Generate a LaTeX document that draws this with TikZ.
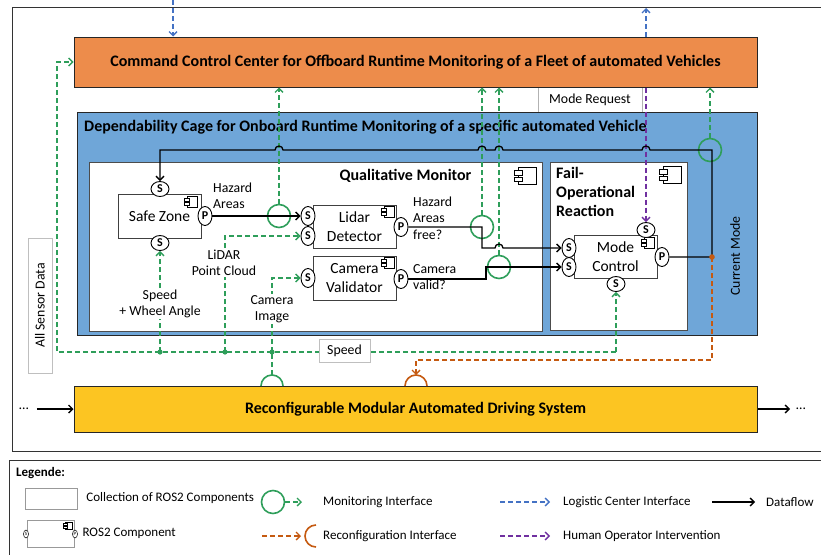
\documentclass[tikz,border=0pt]{standalone}
\usepackage{fontspec}
\setmainfont{Carlito}
\usetikzlibrary{arrows.meta,positioning,shapes.geometric}

\definecolor{cccorange}{RGB}{237,140,75}
\definecolor{cageblue}{RGB}{111,166,216}
\definecolor{adsyellow}{RGB}{252,197,34}
\definecolor{mongreen}{RGB}{46,158,90}
\definecolor{logblue}{RGB}{68,114,196}
\definecolor{humpurple}{RGB}{112,48,160}
\definecolor{recorange}{RGB}{197,90,17}

\newcommand\lbl{\fontsize{13.8}{16.5}\selectfont}
\newcommand\cmpf{\fontsize{15.5}{18.5}\selectfont}
\newcommand\ttl{\fontsize{16}{19}\selectfont\bfseries}
\newcommand\lgd{\fontsize{13}{15}\selectfont}

% little UML component symbol
\tikzset{compicon/.pic={
    \draw[fill=white,line width=0.7pt] (-6,-8) rectangle (10,8);
    \draw[fill=white,line width=0.7pt] (-10,-5) rectangle (-2,-1);
    \draw[fill=white,line width=0.7pt] (-10,1) rectangle (-2,5);
  }}

\begin{document}
\begin{tikzpicture}[
    x=1pt, y=-1pt,
    font=\lbl,
    >={Straight Barb[length=4pt,width=8pt]},
    bigbox/.style={rectangle,draw=black!85,line width=1pt,inner sep=0pt},
    comp/.style={rectangle,draw=black!75,fill=white,line width=1pt,align=center,minimum width=83pt,minimum height=44pt,inner sep=0pt,font=\cmpf},
    port/.style={ellipse,draw,fill=white,line width=0.9pt,inner sep=0pt,minimum width=14pt,minimum height=19pt,font=\fontsize{12}{12}\selectfont\bfseries},
    tport/.style={port,minimum width=18pt,minimum height=15pt},
    txtbox/.style={rectangle,draw=black!25,fill=white,inner sep=0pt},
    flow/.style={->,line width=1.3pt},
    mon/.style={mongreen,line width=1.3pt,dash pattern=on 5pt off 3pt},
    moncirc/.style={circle,draw=mongreen,line width=1.6pt,minimum size=23pt,inner sep=0pt},
    logi/.style={->,logblue,line width=1.3pt,dash pattern=on 5pt off 3pt},
    human/.style={->,humpurple,line width=1.3pt,dash pattern=on 5pt off 3pt},
    reconf/.style={recorange,line width=1.3pt,dash pattern=on 5pt off 3pt},
    lbox/.style={fill=white,align=center,inner sep=1pt},
    lgdtxt/.style={font=\lgd,inner sep=1pt}
  ]
  \useasboundingbox (0,0) rectangle (821,554);

  % frames
  \draw[black!80,line width=1pt] (12,7) rectangle (840,451);
  \draw[black!80,line width=1pt] (9,460) rectangle (840,570);

  % offboard part
  \node[txtbox,draw=black!30,minimum width=104pt,minimum height=25pt] (mreq) at (590,99.5) {Mode Request};
  \node[bigbox,fill=cccorange,minimum width=683pt,minimum height=50pt,font=\ttl] (ccc) at (415.5,62)
    {Command Control Center for Offboard Runtime Monitoring of a Fleet of automated Vehicles};

  % dependability cage
  \node[bigbox,fill=cageblue,minimum width=680pt,minimum height=223pt] (cage) at (417,223.5) {};
  \node[font=\ttl,anchor=west,inner sep=0pt] (cagettl) at (84,127)
    {Dependability Cage for Onboard Runtime Monitoring of a specific automated Vehicle};
  \node[rotate=90] (curmode) at (735,256) {Current Mode};

  \node[bigbox,draw=black!70,fill=white,minimum width=453pt,minimum height=169pt] (qm) at (315.5,246.5) {};
  \node[font=\ttl] (qmttl) at (405.5,176) {Qualitative Monitor};
  \pic[scale=1.1] at (525,176) {compicon};

  \node[bigbox,draw=black!70,fill=white,minimum width=137pt,minimum height=168pt] (fo) at (618.5,246) {};
  \node[font=\ttl,align=left,anchor=north west,inner sep=0pt] (fottl) at (556,167) {Fail-\\Operational\\Reaction};
  \pic[scale=1.1] at (670,175) {compicon};

  % components
  \node[comp] (sz) at (159.5,216) {Safe Zone};
  \pic[scale=0.65] at (191,202) {compicon};
  \node[comp,minimum height=43pt] (lidar) at (354.5,226.5) {Lidar\\Detector};
  \pic[scale=0.65] at (388,212) {compicon};
  \node[comp] (cam) at (354.5,278) {Camera\\Validator};
  \pic[scale=0.65] at (388,263) {compicon};
  \node[comp,minimum height=43pt] (mc) at (615.5,256.5) {Mode\\Control};
  \pic[scale=0.65] at (648,243) {compicon};

  % ports
  \node[tport] (szS1) at (160,189) {S};
  \node[tport] (szS2) at (160,243) {S};
  \node[port] (szP) at (205,216) {P};
  \node[port] (ldS1) at (308,216) {S};
  \node[port] (ldS2) at (308,236) {S};
  \node[port] (ldP) at (401,227) {P};
  \node[port] (cvS) at (308,278) {S};
  \node[port] (cvP) at (401,279) {P};
  \node[port] (mcS1) at (569,248) {S};
  \node[port] (mcS2) at (569,267) {S};
  \node[tport] (mcS3) at (646,230) {S};
  \node[tport] (mcS4) at (616,284) {S};
  \node[port] (mcP) at (662,257) {P};

  % driving system
  \node[bigbox,fill=adsyellow,minimum width=683pt,minimum height=46pt,font=\ttl] (ads) at (415.5,409)
    {Reconfigurable Modular Automated Driving System};
  \node[inner sep=0pt] (adsin) at (24,409) {\dots};
  \node[inner sep=0pt] (adsout) at (801,409) {\dots};
  \draw[flow] (adsin.east) ++(8,0) -- (ads.west);
  \draw[flow] (ads.east) -- ([xshift=-6pt]adsout.west);
  \coordinate (sockM) at (272,375);
  \coordinate (sockR) at (416,375);
  \draw[mongreen,line width=1.6pt] (261,386) arc[start angle=180,end angle=360,radius=11];
  \draw[recorange,line width=1.6pt] (405,386) arc[start angle=180,end angle=360,radius=11];

  \node[txtbox,rotate=90,minimum width=135pt,minimum height=24pt] (allsens) at (40,305.5) {All Sensor Data};

  % logistic center
  \coordinate (login) at (173,0);
  \coordinate (logout) at (646,8);
  \draw[logi] (login) -- (login |- ccc.north);
  \draw[logi] (logout |- ccc.north) -- (logout);

  % monitoring interfaces
  \node[moncirc] (mon1) at (279,216) {};
  \node[moncirc] (mon2) at (482,227) {};
  \node[moncirc] (mon3) at (499,267) {};
  \node[moncirc] (mon4) at (710,150) {};
  \draw[mon,->] (mon1.north) -- (mon1 |- ccc.south);
  \draw[mon,->] (mon2.north) -- (mon2 |- ccc.south);
  \draw[mon,->] (mon3.north) -- (mon3 |- ccc.south);
  \draw[mon,->] (mon4.north) -- (mon4 |- ccc.south);
  \draw[human] (mcS3 |- ccc.south) -- (mcS3.north);

  % dataflow
  \coordinate (cmode) at (712,257);
  \draw[flow] (szP.east) -- (ldS1.west);
  \node[align=left,anchor=west,inner sep=0pt] at (213,196) {Hazard\\Areas};
  \draw[flow] (ldP.east) -- (482,227) -- (482,248) -- (495,248)
    arc[start angle=180,end angle=360,radius=4] -- (mcS1.west);
  \node[align=left,anchor=west,inner sep=0pt] at (413,218) {Hazard\\Areas\\free?};
  \draw[flow] (cvP.east) -- (486,279) -- (486,267) -- (mcS2.west);
  \node[align=left,anchor=west,inner sep=0pt] at (413,277) {Camera\\valid?};
  \draw[flow] (mcP.east) -- (cmode) -- (712,150) -- (650,150)
    arc[start angle=0,end angle=-180,radius=4] -- (503,150)
    arc[start angle=0,end angle=-180,radius=4] -- (486,150)
    arc[start angle=0,end angle=-180,radius=4] -- (283,150)
    arc[start angle=0,end angle=-180,radius=4] -- (szS1 |- 0,150) -- (szS1.north);

  % sensor data bus
  \coordinate (busL) at (57,352);
  \coordinate (busR) at (616,352);
  \draw[mon] (sockM) -- (272,352);
  \draw[mon,->] (busR) -- (busL) -- (busL |- ccc.west) -- (ccc.west);
  \draw[mon,->] (busR) -- (mcS4.south);
  \draw[mon,->] (160,352) -- (szS2.south);
  \draw[mon,->] (225,352) -- (225,236) -- (ldS2.west);
  \draw[mon,->] (272,352) -- (272,278) -- (cvS.west);
  \foreach \bx in {160,225,272}
    \fill[mongreen] (\bx,352) circle[radius=2.6];
  \node[lbox] at (160,304) {Speed\\+ Wheel Angle};
  \node[lbox] at (224,263) {LiDAR\\Point Cloud};
  \node[lbox] at (272,309) {Camera\\Image};
  \node[txtbox,minimum width=51pt,minimum height=23pt] (speed) at (344.5,350.5) {Speed};

  % reconfiguration
  \draw[reconf,->] (cmode) -- (712,360) -- (416,360) -- (sockR);
  \fill[recorange] (cmode) circle[radius=2.8];

  % legend
  \node[lgdtxt,font=\lgd\bfseries,anchor=west] (lgttl) at (15,473) {Legende:};
  \node[txtbox,draw=black!40,minimum width=52pt,minimum height=21pt] (lgcol) at (51,498.5) {};
  \node[lgdtxt,right=8pt of lgcol] {Collection of ROS2 Components};
  \node[comp,draw=black!40,line width=0.7pt,minimum width=47pt,minimum height=27pt] (lgcomp) at (50.5,533.5) {};
  \pic[scale=0.45] at (68,526) {compicon};
  \node[port,line width=0.5pt,minimum width=5pt,minimum height=8pt,font=\fontsize{5}{5}\selectfont] at (26,534) {S};
  \node[port,line width=0.5pt,minimum width=5pt,minimum height=8pt,font=\fontsize{5}{5}\selectfont] at (75,534) {P};
  \node[lgdtxt,right=7pt of lgcomp] {ROS2 Component};

  \node[moncirc] (lgmon) at (273,502) {};
  \node[lgdtxt,anchor=west] (lgmontxt) at (322,502) {Monitoring Interface};
  \draw[mon,->] (lgmon.east) -- ([xshift=-20pt]lgmontxt.west);
  \node[lgdtxt,anchor=west] (lgrectxt) at (322,536) {Reconfiguration Interface};
  \draw[reconf,->] ([xshift=-60pt]lgrectxt.west) -- ([xshift=-21pt]lgrectxt.west);
  \draw[recorange,line width=1.6pt] (316,525) arc[start angle=270,end angle=90,radius=11];

  \node[lgdtxt,anchor=west] (lglogtxt) at (562,502) {Logistic Center Interface};
  \draw[logi] ([xshift=-62pt]lglogtxt.west) -- ([xshift=-12pt]lglogtxt.west);
  \node[lgdtxt,anchor=west] (lghumtxt) at (562,536) {Human Operator Intervention};
  \draw[human] ([xshift=-62pt]lghumtxt.west) -- ([xshift=-12pt]lghumtxt.west);
  \node[lgdtxt,anchor=west] (lgflowtxt) at (765,502) {Dataflow};
  \draw[flow] ([xshift=-53pt]lgflowtxt.west) -- ([xshift=-10pt]lgflowtxt.west);
\end{tikzpicture}
\end{document}
